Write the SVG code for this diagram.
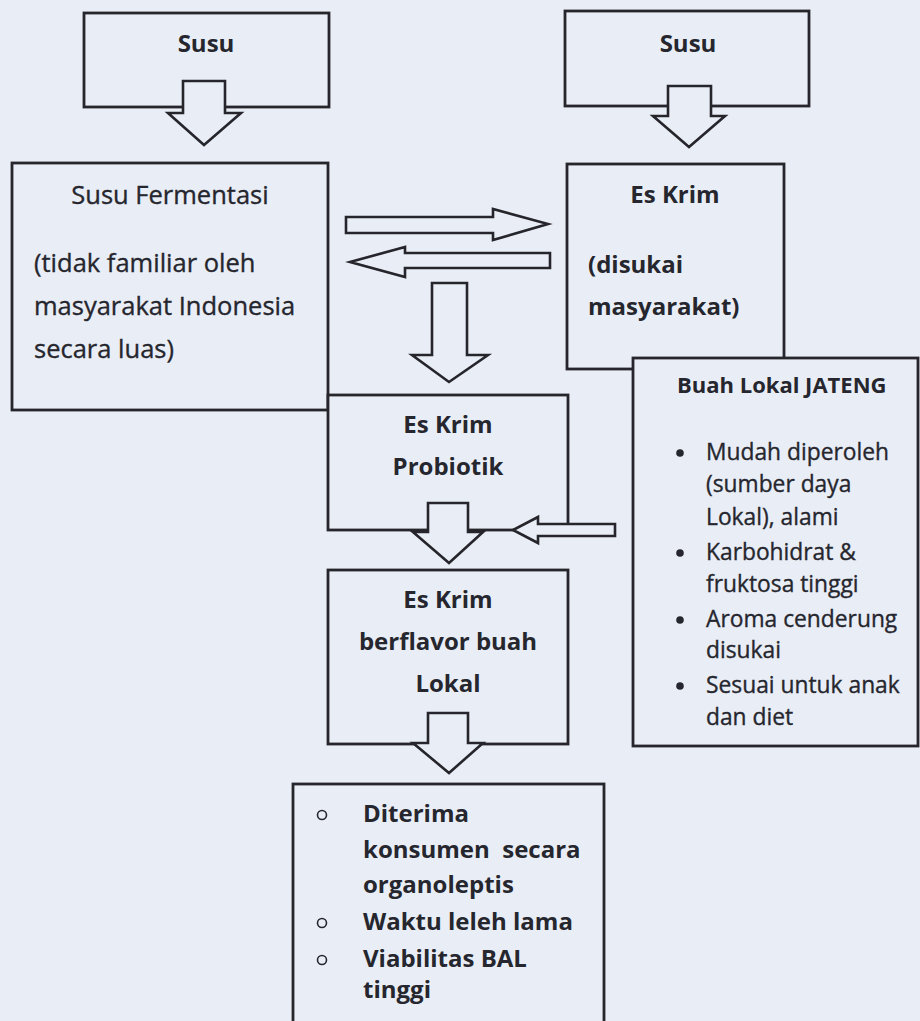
<svg xmlns="http://www.w3.org/2000/svg" width="920" height="1021" viewBox="0 0 920 1021">
<style>
.bg{fill:#e9eef6}
.box{fill:#e9eef6;stroke:#25252b;stroke-width:2.8}
.arr{fill:#e9eef6;stroke:#25252b;stroke-width:2.6;stroke-linejoin:miter}
text{font-family:"Open Sans","Liberation Sans",sans-serif;font-size:25.5px;fill:#26262e;stroke:#26262e;stroke-width:0.35}
.b{font-weight:bold;font-size:24px;stroke-width:0}
.m{text-anchor:middle}
.s{font-size:22.8px}
.sb{font-size:22px;font-weight:bold;stroke-width:0}
.dot{fill:#26262e}
.ring{fill:none;stroke:#26262e;stroke-width:1.6}
</style>
<rect class="bg" x="0" y="0" width="920" height="1021"/>
<g id="node-susu-left">
<rect class="box" x="84" y="13" width="245" height="94"/>
<text class="b m" x="206" y="52">Susu</text>
</g>
<g id="node-susu-right">
<rect class="box" x="565" y="11" width="244" height="95"/>
<text class="b m" x="688" y="52">Susu</text>
</g>
<g id="node-susu-fermentasi">
<rect class="box" x="12" y="163" width="316" height="247"/>
<text class="m" x="170" y="204">Susu Fermentasi</text>
<text x="34" y="272">(tidak familiar oleh</text>
<text x="34" y="315">masyarakat Indonesia</text>
<text x="34" y="358">secara luas)</text>
</g>
<g id="node-es-krim">
<rect class="box" x="567" y="164" width="217" height="205"/>
<text class="b m" x="675" y="203">Es Krim</text>
<text class="b" x="588" y="273">(disukai</text>
<text class="b" x="588" y="315">masyarakat)</text>
</g>
<g id="node-es-krim-probiotik">
<rect class="box" x="328" y="395" width="240" height="135"/>
<text class="b m" x="448" y="433">Es Krim</text>
<text class="b m" x="448" y="475">Probiotik</text>
</g>
<g id="node-es-krim-berflavor">
<rect class="box" x="328" y="570" width="240" height="174"/>
<text class="b m" x="448" y="608">Es Krim</text>
<text class="b m" x="448" y="650">berflavor buah</text>
<text class="b m" x="448" y="692">Lokal</text>
</g>
<g id="node-buah-lokal">
<rect class="box" x="633" y="358" width="285" height="388"/>
<text class="sb" x="677" y="393">Buah Lokal JATENG</text>
<circle class="dot" cx="680" cy="453" r="3.8"/>
<text class="s" x="706" y="460">Mudah diperoleh</text>
<text class="s" x="706" y="492">(sumber daya</text>
<text class="s" x="706" y="525">Lokal), alami</text>
<circle class="dot" cx="680" cy="553" r="3.8"/>
<text class="s" x="706" y="560">Karbohidrat &amp;</text>
<text class="s" x="706" y="592">fruktosa tinggi</text>
<circle class="dot" cx="680" cy="620" r="3.8"/>
<text class="s" x="706" y="627">Aroma cenderung</text>
<text class="s" x="706" y="658">disukai</text>
<circle class="dot" cx="680" cy="686" r="3.8"/>
<text class="s" x="706" y="693">Sesuai untuk anak</text>
<text class="s" x="706" y="725">dan diet</text>
</g>
<g id="node-hasil">
<rect class="box" x="293" y="784" width="311" height="250"/>
<circle class="ring" cx="322" cy="815" r="4.5"/>
<text class="b" x="363" y="822">Diterima</text>
<text class="b" x="363" y="858" xml:space="preserve">konsumen  secara</text>
<text class="b" x="363" y="893">organoleptis</text>
<circle class="ring" cx="322" cy="923" r="4.5"/>
<text class="b" x="363" y="930">Waktu leleh lama</text>
<circle class="ring" cx="322" cy="960" r="4.5"/>
<text class="b" x="363" y="967">Viabilitas BAL</text>
<text class="b" x="363" y="998">tinggi</text>
</g>
<g id="connectors">
<polygon class="arr" points="183,81 225,81 225,113 241,113 204,145 168,113 183,113"/>
<polygon class="arr" points="668,86 711,86 711,116 725,116 689,147 653,116 668,116"/>
<polygon class="arr" points="346,217 493,217 493,209 548,224 493,240 493,233 346,233"/>
<polygon class="arr" points="550,253 405,253 405,247 350,262 405,277 405,268 550,268"/>
<polygon class="arr" points="432,283 467,283 467,355 488,355 449,382 412,355 432,355"/>
<polygon class="arr" points="428,503 468,503 468,532 483,532 449,563 413,532 428,532"/>
<polygon class="arr" points="615,524 538,524 538,517 513,530 538,543 538,536 615,536"/>
<polygon class="arr" points="428,713 468,713 468,743 483,743 449,773 413,743 428,743"/>
</g>
</svg>
